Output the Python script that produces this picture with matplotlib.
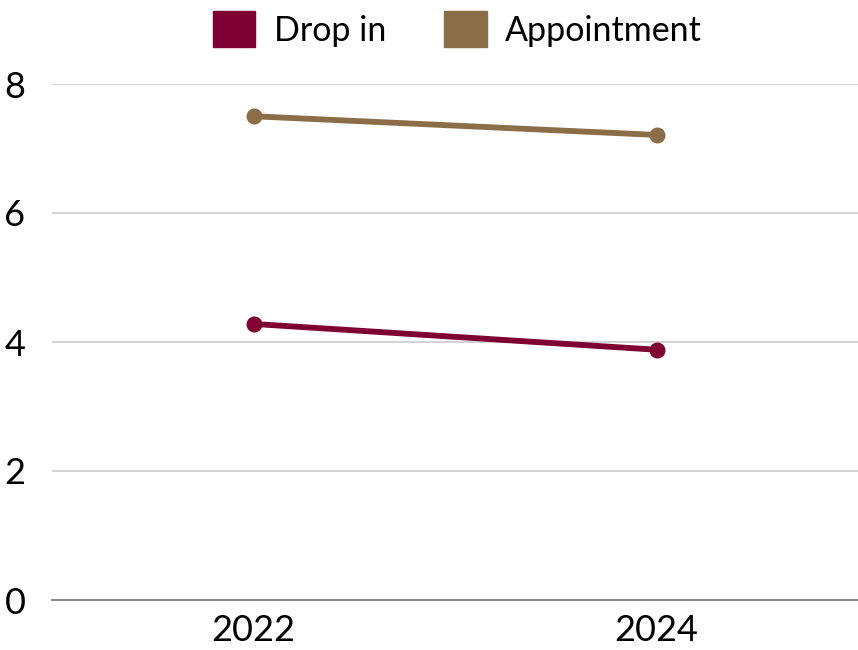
import matplotlib
matplotlib.use("Agg")
from matplotlib import pyplot as plt
from matplotlib.patches import Patch

years = ["2022", "2024"]
drop_in = [4.28, 3.88]
appointment = [7.5, 7.21]

plt.rcParams['font.family'] = ['Lato', 'DejaVu Sans']

fig = plt.figure(figsize=(8.58, 6.5), dpi=100)
ax = fig.add_axes([52 / 858, 50 / 650, 806 / 858, 516 / 650])

x = range(len(years))
ax.plot(x, drop_in, color="#7f0033", lw=4.2, marker="o", ms=10.5, solid_capstyle="round")
ax.plot(x, appointment, color="#8b6d47", lw=4.2, marker="o", ms=10.5, solid_capstyle="round")

ax.set_xlim(-0.5, 1.5)
ax.set_ylim(0, 8)
ax.set_yticks([0, 2, 4, 6, 8])
ax.set_xticks(list(x))
ax.set_xticklabels(years)
ax.tick_params(length=0, labelsize=26, colors="black")
ax.tick_params(axis="y", pad=19)
ax.tick_params(axis="x", pad=10)

ax.grid(axis="y", color="#cccccc", lw=1.2)
ax.set_axisbelow(True)
for s in ["top", "right", "left"]:
    ax.spines[s].set_visible(False)
ax.spines["bottom"].set_color("#888888")
ax.spines["bottom"].set_linewidth(1.5)

handles = [Patch(color="#7f0033", label="Drop in"), Patch(color="#8b6d47", label="Appointment")]
fig.legend(handles=handles, loc="upper center", bbox_to_anchor=(0.533, 1.03), ncol=2, frameon=False,
           fontsize=24.5, handlelength=1.25, handleheight=1.25, handletextpad=0.55, columnspacing=1.7)

fig.savefig("out.png", dpi=100)
